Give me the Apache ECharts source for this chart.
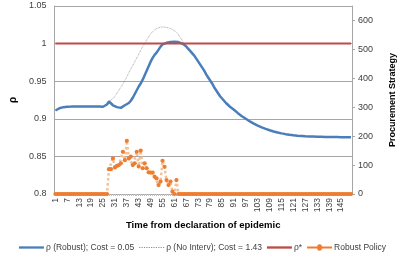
<!DOCTYPE html>
<html><head><meta charset="utf-8">
<script src="https://cdn.jsdelivr.net/npm/echarts@6/dist/echarts.min.js"></script>
<style>html,body{margin:0;padding:0;background:#fff}#c{width:405px;height:260px}</style>
</head><body><div id="c"></div>
<script>
var categories = [];
for (var k = 1; k <= 150; k++) categories.push(String(k));

var rhoRobust = [
.911,.913,.914,.915,.9155,.916,.916,.916,.9162,.9163,
.9165,.9165,.9165,.9165,.9165,.9165,.9165,.9165,.9165,.9165,
.9165,.9165,.9165,.9163,.916,.9165,.919,.923,.921,.918,
.9165,.9155,.915,.9145,.916,.918,.919,.921,.924,.928,
.933,.938,.943,.947,.952,.958,.964,.970,.976,.981,
.985,.988,.992,.996,.999,1.0,1.001,1.0015,1.002,1.0025,
1.0025,1.0025,1.002,1.001,1.0,.998,.996,.993,.990,.987,
.984,.980,.976,.972,.968,.964,.959,.955,.951,.947,
.942,.938,.934,.930,.927,.924,.921,.919,.916,.914,
.912,.9095,.9075,.9055,.9035,.9015,.900,.898,.8965,.895,
.8935,.892,.891,.8898,.8887,.8876,.8866,.8857,.8848,.884,
.8832,.8825,.8818,.8812,.8806,.8801,.8796,.8792,.8788,.8784,
.8781,.8778,.8775,.8773,.8771,.8769,.8767,.8766,.8765,.8764,
.8763,.8762,.8761,.876,.876,.8759,.8759,.8758,.8758,.8758,
.8757,.8757,.8757,.8757,.8756,.8756,.8756,.8756,.8756,.8756
];

// No intervention curve, days 27..68 (overlaps the robust curve elsewhere)
var noIntervStart = 27;
var rhoNoInterv = [
.919,.923,.924,.927,.930,.934,.938,.942,.946,.951,
.956,.961,.966,.971,.976,.981,.986,.991,.996,1.0,
1.005,1.009,1.013,1.016,1.018,1.02,1.021,1.022,1.0222,1.022,
1.0215,1.021,1.02,1.019,1.017,1.015,1.012,1.008,1.004,1.0,
.996,.992
];

var rhoStar = 1;

// Robust policy (procurement), non-zero section days 28..63; zero elsewhere
var policyStart = 28;
var robustPolicy = [
86,86,123,92,97,100,106,146,117,184,
123,129,100,106,146,95,150,89,106,89,
75,74,74,60,54,31,43,115,94,48,
31,43,8,0,48,0
];

var noIntervData = categories.map(function(c, i){
  var d = i + 1 - noIntervStart;
  return (d >= 0 && d < rhoNoInterv.length) ? rhoNoInterv[d] : null;
});
var policyData = categories.map(function(c, i){
  var d = i + 1 - policyStart;
  return (d >= 0 && d < robustPolicy.length) ? robustPolicy[d] : 0;
});
var starData = categories.map(function(){ return rhoStar; });

var lineIcon = 'path://M0,0H26V2.4H0Z';
var dotIcon = 'path://M0,0H1.2V1H0Z M2.4,0H3.6V1H2.4Z M4.8,0H6V1H4.8Z M7.2,0H8.4V1H7.2Z M9.6,0H10.8V1H9.6Z M12,0H13.2V1H12Z M14.4,0H15.6V1H14.4Z M16.8,0H18V1H16.8Z M19.2,0H20.4V1H19.2Z M21.6,0H22.8V1H21.6Z M24,0H25.2V1H24Z';
var policyIcon = 'path://M0,2H10.5A2.5,2.5 0 0 1 15.5,2H26V4H15.5A2.5,2.5 0 0 1 10.5,4H0Z';

var txt = '#404040';
var font = 'Liberation Sans';
var chart = echarts.init(document.getElementById('c'), null, {renderer:'canvas'});
chart.setOption({
  animation: false,
  textStyle: {fontFamily: font},
  grid: {left: 50, right: 48, top: 6, bottom: 66},
  legend: {
    bottom: 3, left: 'center', itemWidth: 25, itemHeight: 10, itemGap: 5,
    textStyle: {fontSize: 8.5, color: txt, fontFamily: font, padding: [0,0,0,-3]},
    data: [
      {name: 'ρ (Robust); Cost = 0.05', icon: lineIcon},
      {name: 'ρ (No Interv); Cost = 1.43', icon: dotIcon},
      {name: 'ρ*', icon: lineIcon},
      {name: 'Robust Policy', icon: policyIcon}
    ]
  },
  xAxis: {
    type: 'category', data: categories, boundaryGap: true,
    name: 'Time from declaration of epidemic', nameLocation: 'middle', nameGap: 23,
    nameTextStyle: {fontSize: 9.5, fontWeight: 'bold', color: '#000'},
    axisLine: {lineStyle: {color: '#a6a6a6'}},
    axisTick: {show: true, interval: 0, length: 2, alignWithLabel: true, lineStyle: {color: '#bfbfbf'}},
    axisLabel: {interval: 5, rotate: 90, fontSize: 8.5, color: txt, margin: 4}
  },
  yAxis: [{
    type: 'value', min: 0.8, max: 1.05, interval: 0.05,
    name: 'ρ', nameLocation: 'middle', nameGap: 32, nameRotate: 90,
    nameTextStyle: {fontSize: 10, fontWeight: 'bold', color: '#000'},
    axisLine: {show: true, lineStyle: {color: '#a6a6a6'}},
    axisTick: {show: false},
    axisLabel: {fontSize: 9, color: txt, margin: 8, formatter: function(v){ return String(+v.toFixed(2)); }},
    splitLine: {lineStyle: {color: '#a6a6a6'}}
  }, {
    type: 'value', min: 0, max: 650, interval: 100, position: 'right',
    name: 'Procurement Strategy', nameLocation: 'middle', nameGap: 36, nameRotate: 90,
    nameTextStyle: {fontSize: 9, fontWeight: 'bold', color: '#000'},
    axisLine: {show: true, lineStyle: {color: '#a6a6a6'}},
    axisTick: {show: true, length: 3, lineStyle: {color: '#a6a6a6'}},
    axisLabel: {fontSize: 9, color: txt, margin: 6, showMaxLabel: false},
    splitLine: {show: false}
  }],
  series: [{
    name: 'ρ (Robust); Cost = 0.05', type: 'line', data: rhoRobust, yAxisIndex: 0,
    showSymbol: false, symbol: 'none', z: 3,
    lineStyle: {color: '#4a7ebb', width: 2.5}, itemStyle: {color: '#4a7ebb'}
  }, {
    name: 'ρ (No Interv); Cost = 1.43', type: 'line', data: noIntervData, yAxisIndex: 0,
    showSymbol: false, symbol: 'none', z: 2,
    lineStyle: {color: '#8c8c8c', width: 0.8, type: 'dotted'}, itemStyle: {color: '#8c8c8c'}
  }, {
    name: 'ρ*', type: 'line', data: starData, yAxisIndex: 0,
    showSymbol: false, symbol: 'none', z: 4,
    lineStyle: {color: '#be4b48', width: 2}, itemStyle: {color: '#be4b48'}
  }, {
    name: 'Robust Policy', type: 'line', data: policyData, yAxisIndex: 1,
    symbol: 'circle', symbolSize: 4.2, showSymbol: true, showAllSymbol: true, z: 5,
    lineStyle: {color: '#f6bf94', width: 2.5, type: 'dotted'},
    itemStyle: {color: '#ed7d31'}
  }]
});
</script></body></html>
